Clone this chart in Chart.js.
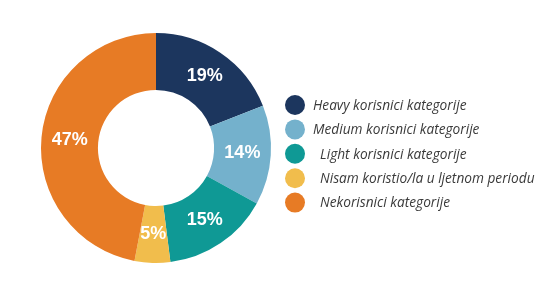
<!DOCTYPE html>
<html>
<head>
<meta charset="utf-8">
<title>Korisnici kategorije</title>
<script src="https://cdn.jsdelivr.net/npm/chart.js@4.4.1/dist/chart.umd.min.js"></script>
<style>
  html, body { margin: 0; padding: 0; background: #fff; }
  #wrap { width: 550px; height: 306px; }
</style>
</head>
<body>
<div id="wrap"><canvas id="chart" width="550" height="306"></canvas></div>
<script>
// data
const categories = [
  'Heavy korisnici kategorije',
  'Medium korisnici kategorije',
  '  Light korisnici kategorije',
  '  Nisam koristio/la u ljetnom periodu',
  '  Nekorisnici kategorije'
];
const shares = [19, 14, 15, 5, 47];
const colors = ['#1c365e', '#74b1cc', '#0f9995', '#f1bd4c', '#e77b25'];

// white % labels in the middle of each slice
const sliceLabels = {
  id: 'sliceLabels',
  afterDatasetsDraw(chart) {
    const ctx = chart.ctx;
    const meta = chart.getDatasetMeta(0);
    ctx.save();
    ctx.fillStyle = '#ffffff';
    ctx.font = 'bold 18px "Liberation Sans", Arial, sans-serif';
    ctx.textAlign = 'center';
    ctx.textBaseline = 'middle';
    meta.data.forEach((arc, i) => {
      const p = arc.tooltipPosition();
      ctx.fillText(shares[i] + '%', p.x, p.y);
    });
    ctx.restore();
  }
};

// legend on the right, drawn by hand so it sits where the original one is
const sideLegend = {
  id: 'sideLegend',
  afterDraw(chart) {
    const ctx = chart.ctx;
    const x0 = 295, y0 = 105, step = 24.4;
    ctx.save();
    ctx.font = 'italic 13.7px "Open Sans", sans-serif';
    ctx.textBaseline = 'middle';
    ctx.textAlign = 'left';
    chart.data.labels.forEach((lab, i) => {
      const y = y0 + i * step;
      ctx.beginPath();
      ctx.arc(x0, y, 10, 0, Math.PI * 2);
      ctx.fillStyle = colors[i];
      ctx.fill();
      ctx.fillStyle = '#3a3a3a';
      ctx.fillText(lab, x0 + 18, y + 1);
    });
    ctx.restore();
  }
};

new Chart(document.getElementById('chart'), {
  type: 'doughnut',
  data: {
    labels: categories,
    datasets: [{
      data: shares,
      backgroundColor: colors,
      borderWidth: 0
    }]
  },
  options: {
    responsive: false,
    animation: false,
    cutout: '50.5%',
    layout: { padding: { left: 41, right: 279, top: 33, bottom: 43 } },
    plugins: {
      legend: { display: false },
      tooltip: { enabled: false }
    }
  },
  plugins: [sliceLabels, sideLegend]
});
</script>
</body>
</html>
